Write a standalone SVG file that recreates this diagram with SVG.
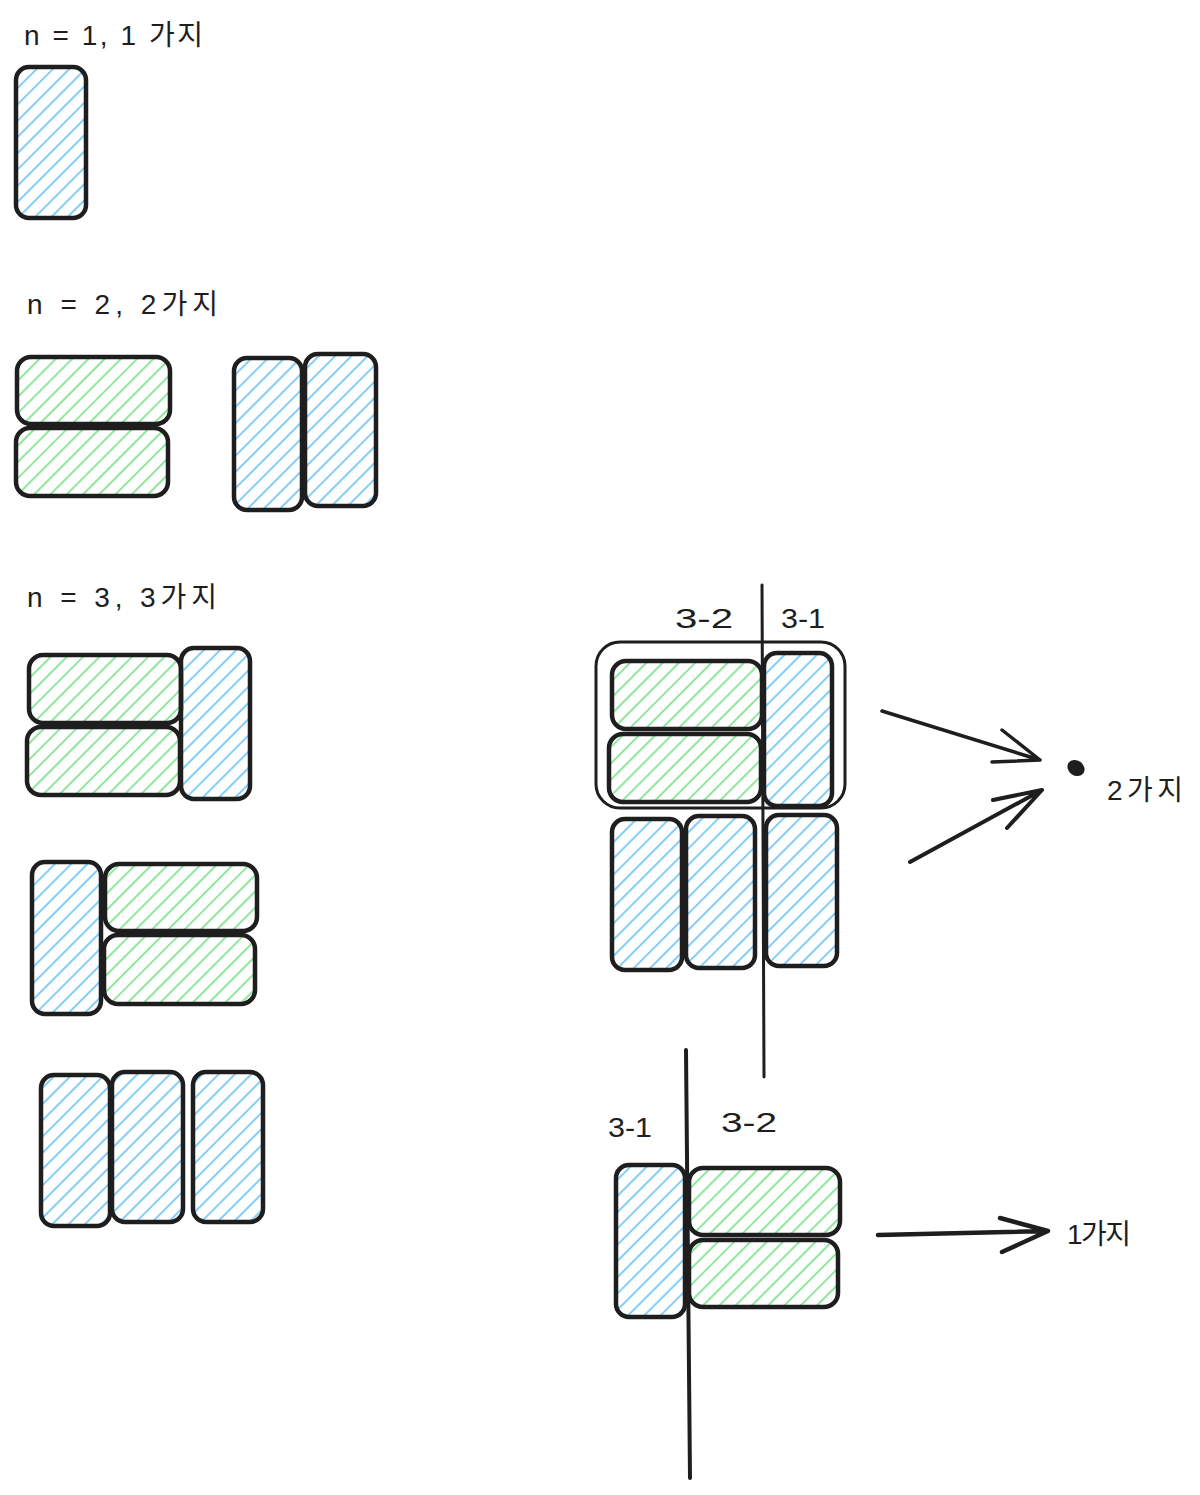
<svg xmlns="http://www.w3.org/2000/svg" width="1200" height="1495" viewBox="0 0 1200 1495">
<defs>
<pattern id="hb" width="11.5" height="11.5" patternUnits="userSpaceOnUse" patternTransform="rotate(45)">
<line x1="5.75" y1="0" x2="5.75" y2="11.5" stroke="#84cdfa" stroke-width="2"/>
</pattern>
<pattern id="hg" width="11.5" height="11.5" patternUnits="userSpaceOnUse" patternTransform="rotate(45)">
<line x1="5.75" y1="0" x2="5.75" y2="11.5" stroke="#8ee79c" stroke-width="2"/>
</pattern>
<style>
.b{fill:url(#hb);stroke:#1e1e1e;stroke-width:4.5;}
.g{fill:url(#hg);stroke:#1e1e1e;stroke-width:4.5;}
.t{font-family:"Liberation Sans","Noto Sans CJK KR",sans-serif;font-size:28px;fill:#1e1e1e;}
.ln{fill:none;stroke:#1e1e1e;stroke-linecap:round;stroke-linejoin:round;}
</style>
</defs>
<rect width="1200" height="1495" fill="#ffffff"/>

<g id="labels">
<text class="t" x="24" y="45" textLength="179" lengthAdjust="spacing">n = 1, 1 가지</text>
<text class="t" x="27" y="314" textLength="191" lengthAdjust="spacing">n = 2, 2가지</text>
<text class="t" x="27" y="607" textLength="190" lengthAdjust="spacing">n = 3, 3가지</text>
<text class="t" x="675" y="628" textLength="58" lengthAdjust="spacingAndGlyphs">3-2</text>
<text class="t" x="781" y="628" textLength="44" lengthAdjust="spacingAndGlyphs">3-1</text>
<text class="t" x="608" y="1137" textLength="44" lengthAdjust="spacingAndGlyphs">3-1</text>
<text class="t" x="721" y="1132" textLength="56" lengthAdjust="spacingAndGlyphs">3-2</text>
<text class="t" x="1107" y="800" textLength="76" lengthAdjust="spacing">2가지</text>
<text class="t" x="1067" y="1244" textLength="64" lengthAdjust="spacing">1가지</text>
</g>

<g id="n1">
<rect class="b" x="16" y="67" width="70" height="151" rx="13"/>
</g>

<g id="n2a">
<rect class="g" x="17" y="357" width="153" height="67" rx="14"/>
<rect class="g" x="16" y="428" width="152" height="68" rx="14"/>
</g>
<g id="n2b">
<rect class="b" x="234" y="358" width="68" height="152" rx="13"/>
<rect class="b" x="305" y="354" width="71" height="152" rx="13"/>
</g>

<g id="n3a">
<rect class="g" x="29" y="655" width="152" height="68" rx="14"/>
<rect class="g" x="27" y="727" width="153" height="68" rx="14"/>
<rect class="b" x="181" y="648" width="69" height="151" rx="13"/>
</g>
<g id="n3b">
<rect class="b" x="32" y="862" width="69" height="152" rx="13"/>
<rect class="g" x="105" y="864" width="152" height="67" rx="14"/>
<rect class="g" x="104" y="935" width="151" height="69" rx="14"/>
</g>
<g id="n3c">
<rect class="b" x="41" y="1075" width="69" height="151" rx="13"/>
<rect class="b" x="112" y="1072" width="71" height="150" rx="13"/>
<rect class="b" x="193" y="1072" width="70" height="150" rx="13"/>
</g>

<g id="right-top">
<rect x="596" y="642" width="249" height="166" rx="24" fill="none" stroke="#1e1e1e" stroke-width="3"/>
<rect class="g" x="612" y="661" width="150" height="68" rx="14"/>
<rect class="g" x="609" y="734" width="152" height="68" rx="14"/>
<rect class="b" x="764" y="653" width="68" height="153" rx="13"/>
<rect class="b" x="612" y="819" width="70" height="151" rx="13"/>
<rect class="b" x="686" y="816" width="69" height="152" rx="13"/>
<rect class="b" x="766" y="815" width="71" height="151" rx="13"/>
<ellipse cx="1076" cy="768" rx="9" ry="7.5" fill="#1e1e1e" transform="rotate(35 1076 768)"/>
</g>

<g id="right-bottom">
<rect class="b" x="616" y="1165" width="69" height="152" rx="13"/>
<rect class="g" x="689" y="1168" width="151" height="67" rx="14"/>
<rect class="g" x="689" y="1240" width="149" height="67" rx="14"/>
</g>

<g id="connectors">
<path class="ln" stroke-width="3" d="M762 585 L764 1077"/>
<path class="ln" stroke-width="4" d="M686 1050 L690 1478"/>
<path class="ln" stroke-width="3.5" d="M882 711 L1040 760 M1002 730 L1040 760 L992 762"/>
<path class="ln" stroke-width="4" d="M910 862 L1042 790 M993 800 L1042 790 L1007 828"/>
<path class="ln" stroke-width="4.5" d="M878 1235 L1048 1231 M1000 1218 L1048 1231 L1002 1252"/>
</g>
</svg>
